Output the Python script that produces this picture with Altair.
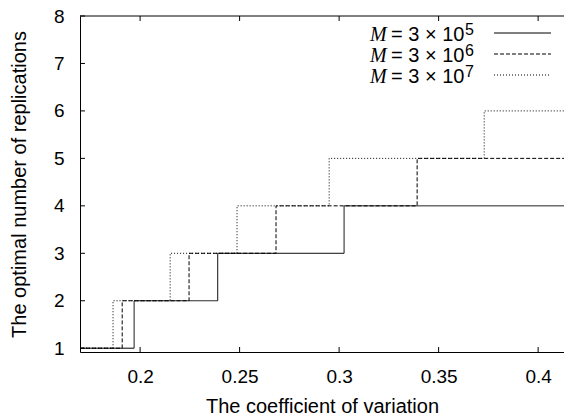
import altair as alt
import pandas as pd

# ---- data ----
X_MIN, X_MAX = 0.1698, 0.413
Y_MIN, Y_MAX = 0.92, 8

series_labels = ["3e5", "3e6", "3e7"]
cv_3e5 = [X_MIN, 0.197, 0.239, 0.3025, X_MAX]
n_3e5 = [1, 2, 3, 4, 4]
cv_3e6 = [X_MIN, 0.191, 0.2246, 0.2683, 0.3392, X_MAX]
n_3e6 = [1, 2, 3, 4, 5, 5]
cv_3e7 = [X_MIN, 0.1864, 0.2151, 0.2487, 0.295, 0.3729, X_MAX]
n_3e7 = [1, 2, 3, 4, 5, 6, 6]

legend_exponents = ["5", "6", "7"]
x_ticks = [0.2, 0.25, 0.3, 0.35, 0.4]
y_ticks = [1, 2, 3, 4, 5, 6, 7, 8]

rows = []
for lab, xs, ys in [("3e5", cv_3e5, n_3e5), ("3e6", cv_3e6, n_3e6), ("3e7", cv_3e7, n_3e7)]:
    for i, (a, b) in enumerate(zip(xs, ys)):
        rows.append({"series": lab, "cv": a, "n": b, "order": i})
df = pd.DataFrame(rows)

W, H = 484, 336
FONT = "Liberation Sans"
dashes = [[1, 0], [4, 2], [1, 2]]

xscale = alt.Scale(domain=[X_MIN, X_MAX], nice=False, zero=False)
yscale = alt.Scale(domain=[Y_MIN, Y_MAX], nice=False, zero=False)

steps = alt.Chart(df).mark_line(interpolate="step-after", color="black", strokeWidth=1, clip=True).encode(
    x=alt.X("cv:Q", scale=xscale,
            axis=alt.Axis(values=x_ticks, format="~g", title="The coefficient of variation",
                          labelPadding=15, titlePadding=10)),
    y=alt.Y("n:Q", scale=yscale,
            axis=alt.Axis(values=y_ticks, title="The optimal number of replications",
                          labelPadding=16, titlePadding=24)),
    strokeDash=alt.StrokeDash("series:N", scale=alt.Scale(domain=series_labels, range=dashes), legend=None),
    order="order:Q",
)

xt = pd.DataFrame({"v": x_ticks})
yt = pd.DataFrame({"v": y_ticks})
one = pd.DataFrame({"k": [0]})
tick_bottom = alt.Chart(xt).mark_rule(color="black", strokeWidth=1).encode(
    x=alt.X("v:Q", scale=xscale), y=alt.value(H), y2=alt.value(H - 5))
tick_top = alt.Chart(xt).mark_rule(color="black", strokeWidth=1).encode(
    x=alt.X("v:Q", scale=xscale), y=alt.value(0), y2=alt.value(5))
tick_left = alt.Chart(yt).mark_rule(color="black", strokeWidth=1).encode(
    y=alt.Y("v:Q", scale=yscale), x=alt.value(0), x2=alt.value(5))
top_border = alt.Chart(one).mark_rule(color="black", strokeWidth=1).encode(
    x=alt.value(0), x2=alt.value(W), y=alt.value(0))

legend_layers = []
row_y = [17, 38, 59]
for i, (ry, ex) in enumerate(zip(row_y, legend_exponents)):
    legend_layers.append(alt.Chart(one).mark_text(
        text="M", font="Liberation Serif", fontStyle="italic", fontWeight="normal", fontSize=20,
        align="left", baseline="alphabetic", color="black").encode(x=alt.value(290), y=alt.value(ry + 8)))
    legend_layers.append(alt.Chart(one).mark_text(
        text="= 3 × 10", font=FONT, fontWeight="normal", fontSize=20, align="left",
        baseline="alphabetic", color="black").encode(x=alt.value(311), y=alt.value(ry + 8)))
    legend_layers.append(alt.Chart(one).mark_text(
        text=ex, font=FONT, fontWeight="normal", fontSize=16, align="left",
        baseline="alphabetic", color="black").encode(x=alt.value(385), y=alt.value(ry + 2)))
    legend_layers.append(alt.Chart(one).mark_rule(
        color="black", strokeWidth=1, strokeDash=dashes[i]).encode(
        x=alt.value(414), x2=alt.value(471), y=alt.value(ry)))

chart = alt.layer(steps, tick_bottom, tick_top, tick_left, top_border, *legend_layers).properties(
    width=W, height=H,
    autosize=alt.AutoSizeParams(type="none"),
    padding={"left": 72, "top": 8, "right": 0, "bottom": 66},
).configure_view(stroke=None).configure_axis(
    grid=False, tickSize=0, domainColor="black", domainWidth=1,
    labelColor="black", labelFont=FONT, labelFontSize=19,
    titleColor="black", titleFont=FONT, titleFontSize=20, titleFontWeight="normal",
)

chart.save("out.html", embed_options={"renderer": "svg", "actions": False})
